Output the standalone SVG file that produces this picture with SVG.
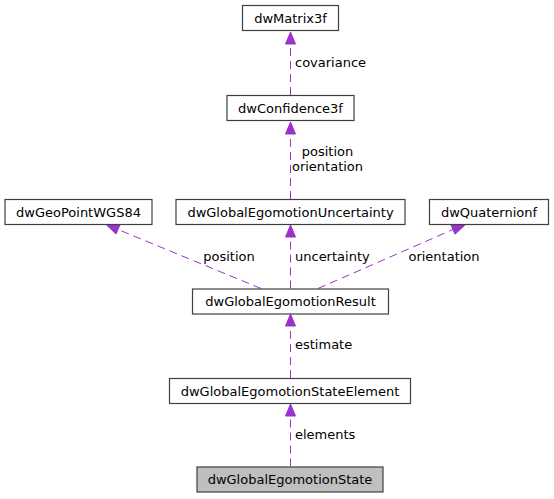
<svg xmlns="http://www.w3.org/2000/svg" width="554" height="499" viewBox="0 0 554 499">
<style>
.node rect{fill:#ffffff;stroke:#404040;stroke-width:1.2}
.node text{font-family:"DejaVu Sans",sans-serif;font-size:13px;fill:#000000;text-anchor:middle}
.edge line{stroke:#9a32cd;stroke-width:1;stroke-dasharray:8,5;fill:none}
.edge polygon{fill:#9a32cd;stroke:#9a32cd}
.lbl{font-family:"DejaVu Sans",sans-serif;font-size:13px;fill:#000000}
</style>
<rect width="554" height="499" fill="#ffffff"/>
<g id="connectors">
  <g class="edge" id="e_conf_matrix">
    <line x1="290.5" y1="95" x2="290.5" y2="44"/>
    <polygon points="290.5,32 285.5,44 295.5,44"/>
    <text class="lbl" x="295" y="66.5">covariance</text>
  </g>
  <g class="edge" id="e_unc_conf">
    <line x1="290.5" y1="199" x2="290.5" y2="134"/>
    <polygon points="290.5,122 285.5,134 295.5,134"/>
    <text class="lbl" x="327.5" y="156" text-anchor="middle">position</text>
    <text class="lbl" x="327.5" y="170.5" text-anchor="middle">orientation</text>
  </g>
  <g class="edge" id="e_res_geo">
    <line x1="261" y1="288.5" x2="118" y2="229.5"/>
    <polygon points="106.5,225 120,224.8 116,234"/>
    <text class="lbl" x="229" y="260.5" text-anchor="middle">position</text>
  </g>
  <g class="edge" id="e_res_unc">
    <line x1="290.5" y1="288.5" x2="290.5" y2="237"/>
    <polygon points="290.5,225 285.5,237 295.5,237"/>
    <text class="lbl" x="295" y="260.5">uncertainty</text>
  </g>
  <g class="edge" id="e_res_quat">
    <line x1="318" y1="288.5" x2="453" y2="229.5"/>
    <polygon points="465,225 451,225 455,234.2"/>
    <text class="lbl" x="444" y="260.5" text-anchor="middle">orientation</text>
  </g>
  <g class="edge" id="e_elem_res">
    <line x1="290.5" y1="378" x2="290.5" y2="326"/>
    <polygon points="290.5,314 285.5,326 295.5,326"/>
    <text class="lbl" x="295" y="349">estimate</text>
  </g>
  <g class="edge" id="e_state_elem">
    <line x1="290.5" y1="466.5" x2="290.5" y2="416"/>
    <polygon points="290.5,404 285.5,416 295.5,416"/>
    <text class="lbl" x="295" y="438.5">elements</text>
  </g>
</g>
<g class="node" id="dwMatrix3f">
  <rect x="242.5" y="5.5" width="96" height="25"/>
  <text x="290.5" y="22.5">dwMatrix3f</text>
</g>
<g class="node" id="dwConfidence3f">
  <rect x="227" y="95.5" width="127" height="25"/>
  <text x="290.5" y="112.5">dwConfidence3f</text>
</g>
<g class="node" id="dwGeoPointWGS84">
  <rect x="5" y="199.5" width="147" height="25"/>
  <text x="78.5" y="216.5">dwGeoPointWGS84</text>
</g>
<g class="node" id="dwGlobalEgomotionUncertainty">
  <rect x="176" y="199.5" width="229" height="25"/>
  <text x="290.5" y="216.5">dwGlobalEgomotionUncertainty</text>
</g>
<g class="node" id="dwQuaternionf">
  <rect x="429.5" y="199.5" width="119" height="25"/>
  <text x="489" y="216.5">dwQuaternionf</text>
</g>
<g class="node" id="dwGlobalEgomotionResult">
  <rect x="192.5" y="289" width="196" height="25"/>
  <text x="290.5" y="306">dwGlobalEgomotionResult</text>
</g>
<g class="node" id="dwGlobalEgomotionStateElement">
  <rect x="169.5" y="378.5" width="241" height="25"/>
  <text x="290" y="395.5">dwGlobalEgomotionStateElement</text>
</g>
<g class="node" id="dwGlobalEgomotionState">
  <rect x="197" y="467" width="186" height="25" style="fill:#bfbfbf"/>
  <text x="290" y="484">dwGlobalEgomotionState</text>
</g>
</svg>
